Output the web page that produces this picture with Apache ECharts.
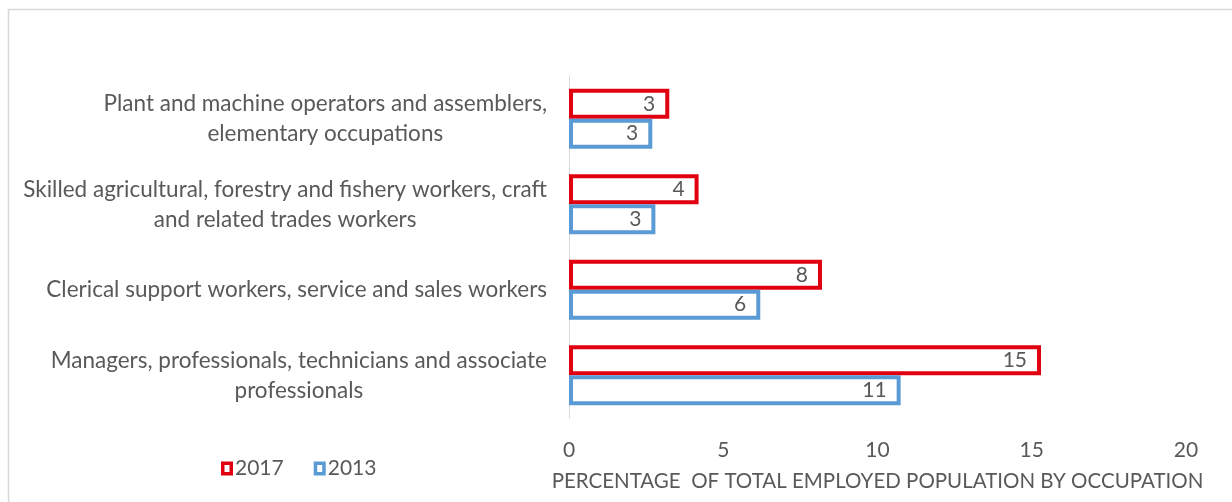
<!DOCTYPE html>
<html>
<head>
<meta charset="utf-8">
<script src="https://cdn.jsdelivr.net/npm/echarts@6/dist/echarts.min.js"></script>
<style>
html,body{margin:0;padding:0;background:#fff;}
#chart{width:1232px;height:502px;}
</style>
</head>
<body>
<div id="chart"></div>
<script>
const categories = [
  'Managers, professionals, technicians and associate\nprofessionals',
  'Clerical support workers, service and sales workers',
  'Skilled agricultural, forestry and fishery workers, craft\nand related trades workers',
  'Plant and machine operators and assemblers,\nelementary occupations'
];
const values2017 = [15.3, 8.2, 4.2, 3.25];
const values2013 = [10.75, 6.2, 2.8, 2.7];
const xTicks = [0, 5, 10, 15, 20];
const axisTitle = 'PERCENTAGE  OF TOTAL EMPLOYED POPULATION BY OCCUPATION';

const FONT = 'Lato';
const GRAY = '#595959';
const RED = '#e00010';
const BLUE = '#5b9bd5';
const RING = 'path://M0,0H12V14H0Z M3.5,3.5V10.5H8.5V3.5Z';

const chart = echarts.init(document.getElementById('chart'), null, {renderer: 'canvas'});

function labelCfg() {
  return {
    show: true,
    position: 'insideRight',
    distance: 14,
    color: GRAY,
    fontFamily: FONT,
    fontSize: 21,
    formatter: p => Math.round(p.value)
  };
}

chart.setOption({
  animation: false,
  backgroundColor: '#fff',
  textStyle: {fontFamily: FONT},
  graphic: [{
    type: 'rect',
    shape: {x: 8.5, y: 9.5, width: 1240, height: 520},
    style: {fill: 'none', stroke: '#d9d9d9', lineWidth: 1.5},
    silent: true
  }],
  legend: {
    data: [
      {name: '2017', icon: RING, itemStyle: {color: RED, borderWidth: 0}},
      {name: '2013', icon: RING, itemStyle: {color: BLUE, borderWidth: 0}}
    ],
    left: 216,
    top: 453,
    itemWidth: 12,
    itemHeight: 14,
    itemGap: 30,
    textStyle: {color: GRAY, fontFamily: FONT, fontSize: 21, padding: [0, 0, 0, -3]}
  },
  grid: {left: 569, right: 46, top: 76, bottom: 84, containLabel: false},
  xAxis: {
    type: 'value',
    min: 0,
    max: 20,
    interval: 5,
    name: axisTitle,
    nameLocation: 'middle',
    nameGap: 53,
    nameTextStyle: {color: GRAY, fontFamily: FONT, fontSize: 20.5},
    axisLine: {show: false},
    axisTick: {show: false},
    splitLine: {show: false},
    axisLabel: {
      color: GRAY, fontFamily: FONT, fontSize: 21, margin: 22,
      formatter: v => xTicks.includes(v) ? String(v) : ''
    }
  },
  yAxis: {
    type: 'category',
    data: categories,
    axisLine: {show: true, lineStyle: {color: '#d9d9d9', width: 1}},
    axisTick: {show: false},
    axisLabel: {
      margin: 22,
      color: GRAY,
      fontFamily: FONT,
      fontSize: 22.5,
      lineHeight: 30,
      formatter: v => v.split('\n').map(l => '{c|' + l + '}').join('\n'),
      rich: {c: {align: 'center', color: GRAY, fontFamily: FONT, fontSize: 22.5, lineHeight: 30}}
    }
  },
  series: [
    {
      name: '2017',
      type: 'bar',
      data: values2017,
      barGap: '0%',
      barCategoryGap: '30%',
      itemStyle: {color: '#fff', borderColor: RED, borderWidth: 4},
      label: labelCfg()
    },
    {
      name: '2013',
      type: 'bar',
      data: values2013,
      barGap: '0%',
      barCategoryGap: '30%',
      itemStyle: {color: '#fff', borderColor: BLUE, borderWidth: 4},
      label: labelCfg()
    }
  ]
});
</script>
</body>
</html>
